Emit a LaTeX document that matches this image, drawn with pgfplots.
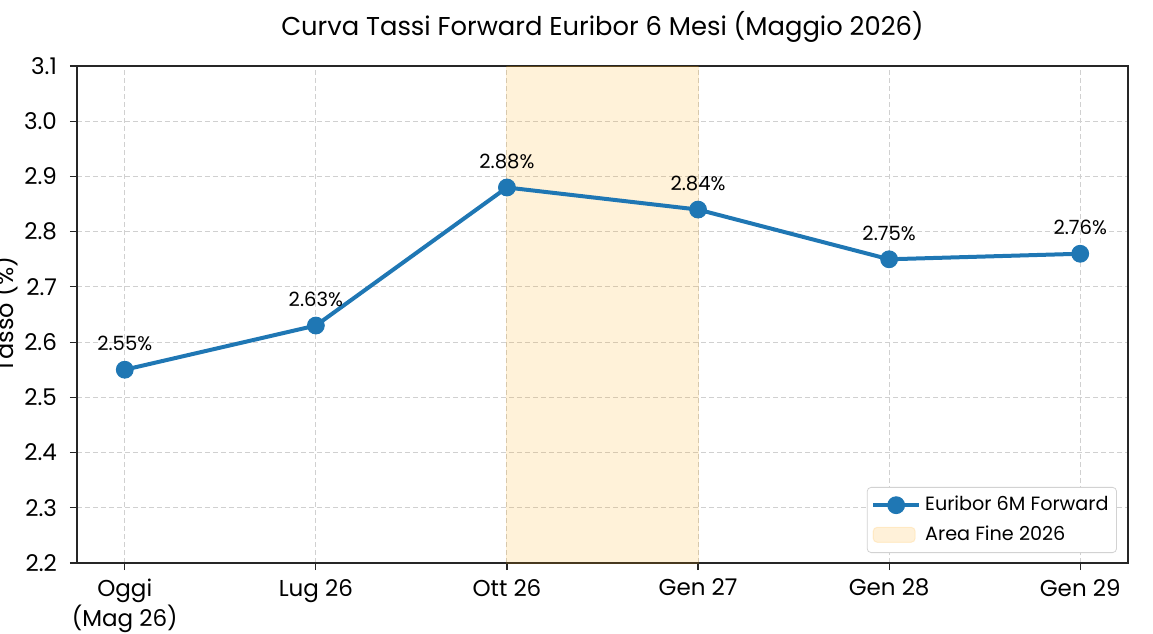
\documentclass[border=0pt]{standalone}
\usepackage{fontspec}
\setmainfont{Poppins}
\usepackage{pgfplots}
\pgfplotsset{compat=1.18}

\definecolor{fwdblue}{RGB}{31,119,180}
\definecolor{spanorange}{RGB}{255,165,0}
\definecolor{gridgray}{RGB}{208,208,208}
\definecolor{axisdark}{RGB}{38,38,38}

\pgfplotsset{
  curve legend/.style={legend image code/.code={%
    \draw[mark repeat=2, mark phase=2, #1] plot coordinates {(0pt,0pt) (11.5pt,0pt) (23pt,0pt)};}},
  span legend/.style={legend image code/.code={%
    \draw[draw=spanorange, fill=spanorange, opacity=0.15, line width=0.5pt] (0pt,-3.75pt) rectangle (21pt,3.75pt);}},
}

% forward rates (x = position of the date on the curve)
\pgfplotstableread{
x rate
0 2.55
1 2.63
2 2.88
3 2.84
4 2.75
5 2.76
}\fwdcurve

\begin{document}
\begin{tikzpicture}
\useasboundingbox (-38.5pt,-35pt) rectangle (538pt,281.5pt);
\begin{axis}[
  at={(0,0)}, anchor=south west,
  scale only axis, width=525.5pt, height=248.5pt,
  xmin=-0.25, xmax=5.25, ymin=2.2, ymax=3.1,
  xtick={0,1,2,3,4,5},
  xticklabels={{Oggi\\(Mag 26)},Lug 26,Ott 26,Gen 27,Gen 28,Gen 29},
  ytick={2.2,2.3,2.4,2.5,2.6,2.7,2.8,2.9,3.0,3.1},
  /pgf/number format/fixed, /pgf/number format/fixed zerofill,
  /pgf/number format/precision=1, /pgf/number format/assume math mode=true,
  ticklabel style={font=\fontsize{11.5}{12.5}\selectfont, text=black},
  xticklabel style={align=center, yshift=-1pt},
  yticklabel style={xshift=-3pt},
  tick pos=left, tick align=outside, major tick length=3.5pt,
  tick style={axisdark, line width=0.6pt},
  axis line style={axisdark, line width=0.8pt},
  grid=major,
  major grid style={gridgray, line width=0.45pt, dash pattern=on 2.6pt off 1.4pt},
  title={Curva Tassi Forward Euribor 6 Mesi (Maggio 2026)},
  title style={font=\fontsize{12.9}{15}\selectfont, at={(0.5,1)}, anchor=base, yshift=9.5pt},
  ylabel={Tasso (\%)},
  every axis y label/.style={at={(axis description cs:0,0.5)}, xshift=-36pt, rotate=90, anchor=center, font=\fontsize{12}{14}\selectfont},
  legend style={at={(1,0)}, anchor=south east, xshift=-5.5pt, yshift=5pt,
    draw=gray!35, rounded corners=2pt, fill=white,
    font=\fontsize{9.6}{11}\selectfont, row sep=2pt, inner xsep=2pt, inner ysep=2.5pt},
  legend cell align=left,
]
% highlighted end-2026 window
\addplot [draw=spanorange, fill=spanorange, opacity=0.15, line width=0.5pt, forget plot]
  coordinates {(2,2.2) (3,2.2) (3,3.1) (2,3.1)} \closedcycle;

\addplot [fwdblue, line width=2pt, mark=*, mark size=4.2pt, mark options={fill=fwdblue, draw=fwdblue, line width=0.5pt},
  curve legend,
  point meta=y,
  nodes near coords={\pgfmathprintnumber[fixed, fixed zerofill, precision=2, assume math mode=true]{\pgfplotspointmeta}\%},
  every node near coord/.append style={font=\fontsize{9.8}{11}\selectfont, text=black, anchor=base, yshift=9.5pt},
] table [x=x, y=rate] {\fwdcurve};
\addlegendentry{Euribor 6M Forward}

\addlegendimage{span legend}
\addlegendentry{Area Fine 2026}
\end{axis}
\end{tikzpicture}
\end{document}
